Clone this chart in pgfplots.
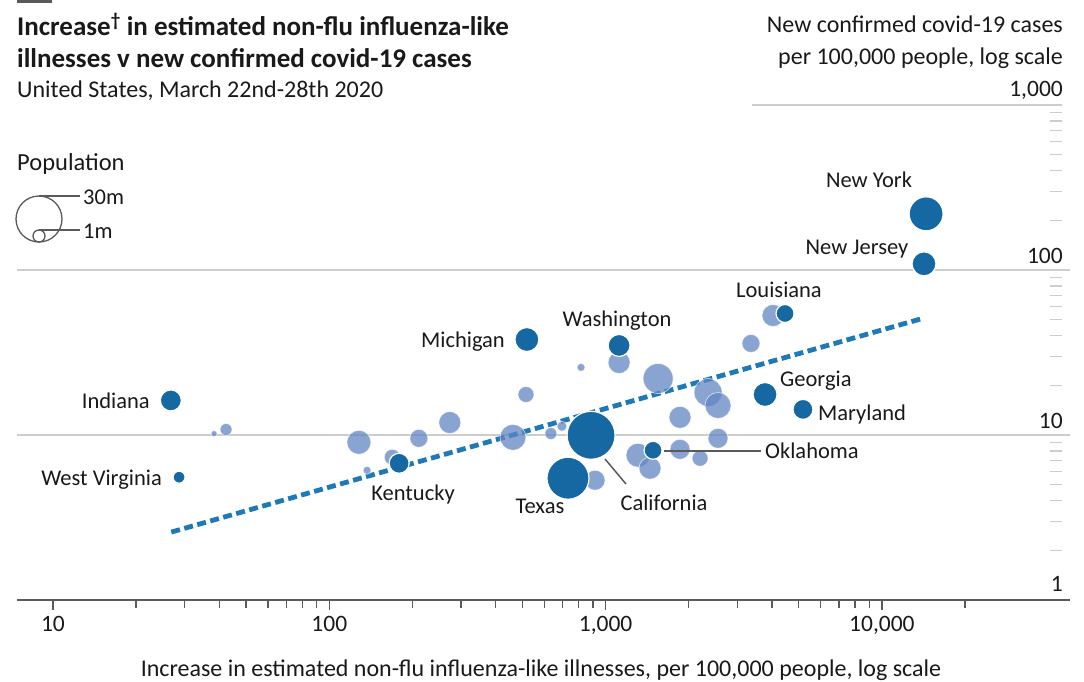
\documentclass[border=0pt]{standalone}
\usepackage{pgfplots}
\pgfplotsset{compat=1.18}
\usepackage{pgfplotstable}
\usepackage{fontspec}
\setmainfont{Carlito}

\definecolor{dark}{RGB}{22,104,162}
\definecolor{light}{RGB}{98,134,194}
\definecolor{trend}{RGB}{30,122,182}
\definecolor{txt}{RGB}{25,25,25}
\definecolor{gridc}{RGB}{205,205,205}
\definecolor{axisc}{RGB}{90,90,90}

% light (other states): x = ILI increase, y = cases, r = circle radius
\pgfplotstableread{
x y r
38.3 10.2 3
42.3 10.8 6
128 9.03 12
169 7.33 8
137 6.11 4
211 9.55 9
273 11.9 11
462 9.68 13
515 17.6 8
634 10.2 6
695 11.3 5
815 25.7 4
1119 27.5 11
1549 22.0 15
916 5.32 10
1310 7.54 12
1448 6.29 11
1859 8.19 10
2197 7.23 8
2552 9.55 10
1859 12.8 11
2349 18.1 14
2552 15.1 13
3358 35.9 9
4036 53.0 11
}\lightdata

% highlighted states
\pgfplotstableread{
x y r
14450 219 17
14200 109 12
4460 54.5 9
1119 34.9 11
519 37.9 12
3776 17.6 12
5180 14.3 10
1485 8.08 9
886 9.96 24
731 5.47 21
179 6.74 10
26.7 16.2 10.5
28.6 5.55 6
}\darkdata

\newcommand\lab{\fontsize{22.5}{26}\selectfont}
\newcommand\hdr{\fontsize{24}{28}\selectfont}

\begin{document}
\begin{tikzpicture}
\useasboundingbox (0pt,0pt) rectangle (1084pt,-682pt);

\begin{axis}[
  at={(17pt,-600pt)}, anchor=south west,
  scale only axis, width=1053pt, height=495pt,
  xmode=log, ymode=log,
  xmin=7.41, xmax=47970, ymin=1, ymax=1000,
  axis x line*=bottom, axis y line=none,
  x axis line style={-, axisc, line width=2pt},
  xtick={10,100,1000,10000},
  xticklabels={10,100,{1,000},{10,000}},
  minor xtick={20,30,40,50,60,70,80,90,200,300,400,500,600,700,800,900,2000,3000,4000,5000,6000,7000,8000,9000,20000},
  ytick=\empty,
  tick align=outside,
  major tick length=10pt, minor tick length=8pt,
  every tick/.style={axisc, line width=1.3pt},
  xticklabel style={font=\fontsize{23.5}{24}\selectfont, text=txt, yshift=-3pt},
  clip=false,
]
% grid lines
\draw[gridc, line width=1.6pt] (axis cs:7.41,10) -- (axis cs:47970,10);
\draw[gridc, line width=1.6pt] (axis cs:7.41,100) -- (axis cs:47970,100);
\draw[gridc, line width=1.6pt] (axis cs:3390,1000) -- (axis cs:45000,1000);
% right-hand minor ticks
\pgfplotsinvokeforeach{2,3,4,5,6,7,8,9}{
  \draw[gridc, line width=1.3pt] (axis cs:40500,#1) -- (axis cs:45000,#1);
  \draw[gridc, line width=1.3pt] (axis cs:40500,#10) -- (axis cs:45000,#10);
  \draw[gridc, line width=1.3pt] (axis cs:40500,#100) -- (axis cs:45000,#100);
}

\addplot[scatter, only marks, mark=*,
  scatter/use mapped color={draw=white, fill=light},
  mark options={fill opacity=0.75, draw opacity=0.6, line width=0.8pt},
  visualization depends on={\thisrow{r} \as \rr},
  scatter/@pre marker code/.append style={/tikz/mark size=\rr}]
  table[x=x, y=y] {\lightdata};

\addplot[trend, line width=4.8pt, dash pattern=on 9pt off 4.5pt]
  coordinates {(26.8,2.58) (14100,51)};

\addplot[scatter, only marks, mark=*,
  scatter/use mapped color={draw=white, fill=dark},
  mark options={line width=1.2pt},
  visualization depends on={\thisrow{r} \as \rr},
  scatter/@pre marker code/.append style={/tikz/mark size=\rr}]
  table[x=x, y=y] {\darkdata};
\end{axis}

\begin{scope}[x=1pt, y=1pt]
% header
\fill[axisc] (17,-0.5) rectangle (52,-3.5);
\node[anchor=base west, inner sep=0, text=txt, font=\bfseries\fontsize{27}{30}\selectfont] at (17,-36)
  {Increase\textsuperscript{\textdagger} in estimated non-flu influenza-like};
\node[anchor=base west, inner sep=0, text=txt, font=\bfseries\fontsize{27}{30}\selectfont] at (17,-68)
  {illnesses v new confirmed covid-19 cases};
\node[anchor=base west, inner sep=0, text=txt, font=\hdr] at (17,-98)
  {United States, March 22nd-28th 2020};
\node[anchor=base east, inner sep=0, text=txt, font=\hdr] at (1063,-33) {New confirmed covid-19 cases};
\node[anchor=base east, inner sep=0, text=txt, font=\hdr] at (1063,-65) {per 100,000 people, log scale};

% y tick labels
\node[anchor=base east, inner sep=0, text=txt, font=\fontsize{23.5}{24}\selectfont] at (1063,-97) {1,000};
\node[anchor=base east, inner sep=0, text=txt, font=\fontsize{23.5}{24}\selectfont] at (1063,-263) {100};
\node[anchor=base east, inner sep=0, text=txt, font=\fontsize{23.5}{24}\selectfont] at (1063,-428) {10};
\node[anchor=base east, inner sep=0, text=txt, font=\fontsize{23.5}{24}\selectfont] at (1063,-591) {1};

% x label
\node[anchor=base, inner sep=0, text=txt, font=\hdr] at (541,-676)
  {Increase in estimated non-flu influenza-like illnesses, per 100,000 people, log scale};

% population key
\node[anchor=base west, inner sep=0, text=txt, font=\fontsize{24.5}{28}\selectfont] at (17,-171) {Population};
\draw[axisc, line width=1.3pt] (39,-219) circle (23);
\draw[axisc, line width=1.3pt] (39,-236) circle (6);
\draw[axisc, line width=1.3pt] (39,-196) -- (80,-196);
\draw[axisc, line width=1.3pt] (39,-230) -- (80,-230);
\node[anchor=base west, inner sep=0, text=txt, font=\lab] at (83,-204) {30m};
\node[anchor=base west, inner sep=0, text=txt, font=\lab] at (83,-238) {1m};

% state labels
\node[anchor=base, inner sep=0, text=txt, font=\lab] at (869,-187) {New York};
\node[anchor=base, inner sep=0, text=txt, font=\lab] at (857,-254) {New Jersey};
\node[anchor=base, inner sep=0, text=txt, font=\lab] at (779,-297) {Louisiana};
\node[anchor=base, inner sep=0, text=txt, font=\lab] at (617,-326) {Washington};
\node[anchor=base east, inner sep=0, text=txt, font=\lab] at (505,-347) {Michigan};
\node[anchor=base west, inner sep=0, text=txt, font=\lab] at (780,-386) {Georgia};
\node[anchor=base west, inner sep=0, text=txt, font=\lab] at (818,-420) {Maryland};
\node[anchor=base west, inner sep=0, text=txt, font=\lab] at (765,-458) {Oklahoma};
\node[anchor=base east, inner sep=0, text=txt, font=\lab] at (150,-408) {Indiana};
\node[anchor=base east, inner sep=0, text=txt, font=\lab] at (162,-485) {West Virginia};
\node[anchor=base, inner sep=0, text=txt, font=\lab] at (413,-500) {Kentucky};
\node[anchor=base, inner sep=0, text=txt, font=\lab] at (540,-513) {Texas};
\node[anchor=base, inner sep=0, text=txt, font=\lab] at (664,-510) {California};
\draw[axisc, line width=1.5pt] (664,-451) -- (761,-451);
\draw[axisc, line width=1.5pt] (605,-459) -- (626,-484);
\end{scope}
\end{tikzpicture}
\end{document}
